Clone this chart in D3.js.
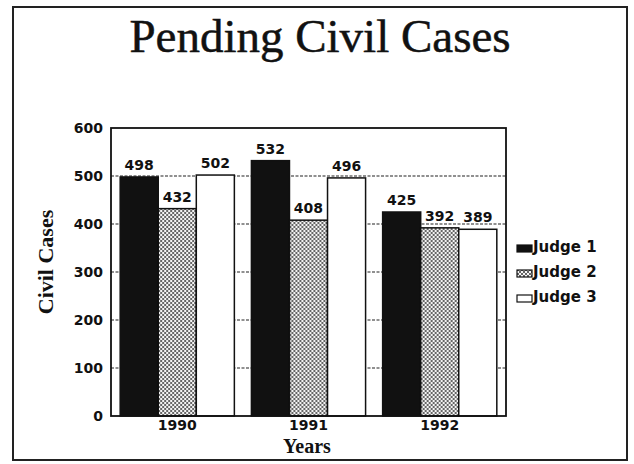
<!DOCTYPE html>
<html>
<head>
<meta charset="utf-8">
<script src="https://cdn.jsdelivr.net/npm/d3@7"></script>
<style>
  html, body { margin: 0; padding: 0; background: #fff; }
  svg { display: block; }
</style>
</head>
<body>
<svg id="chart" width="634" height="464"></svg>
<script>
// ---- data ----
const years = ["1990", "1991", "1992"];
const judges = ["Judge 1", "Judge 2", "Judge 3"];
const judge1 = [498, 532, 425];
const judge2 = [432, 408, 392];
const judge3 = [502, 496, 389];
const yTicks = [0, 100, 200, 300, 400, 500, 600];
const titleText = "Pending Civil Cases";
const yTitle = "Civil Cases";
const xTitle = "Years";

const seriesValues = [judge1, judge2, judge3];

const svg = d3.select("#chart");

// patterns
const defs = svg.append("defs");
const pat = defs.append("pattern")
  .attr("id", "dots").attr("patternUnits", "userSpaceOnUse")
  .attr("width", 4).attr("height", 4);
pat.append("rect").attr("width", 4).attr("height", 4).attr("fill", "#f4f4f4");
pat.append("rect").attr("x", 0).attr("y", 0).attr("width", 2).attr("height", 2).attr("fill", "#666");
pat.append("rect").attr("x", 2).attr("y", 2).attr("width", 2).attr("height", 2).attr("fill", "#666");

const fills = ["#111", "url(#dots)", "#fff"];

// outer frame
svg.append("rect")
  .attr("x", 13).attr("y", 7).attr("width", 614).attr("height", 453)
  .attr("fill", "none").attr("stroke", "#222").attr("stroke-width", 2);

// title
svg.append("text")
  .attr("x", 320).attr("y", 52)
  .attr("text-anchor", "middle")
  .attr("font-family", "Liberation Serif, Times New Roman, serif")
  .attr("font-size", 47)
  .attr("fill", "#111").attr("stroke", "#111").attr("stroke-width", 0.5)
  .text(titleText);

// plot geometry
const plot = { left: 111, right: 506, top: 128, bottom: 416 };

const y = d3.scaleLinear().domain([0, 600]).range([plot.bottom, plot.top]);
const x0 = d3.scaleBand().domain(years).range([plot.left, plot.right])
  .paddingInner(0.13).paddingOuter(0.07);
const x1 = d3.scaleBand().domain(judges).range([0, x0.bandwidth()]).padding(0);

// gridlines (dashed)
svg.append("g")
  .selectAll("line")
  .data(yTicks.filter(d => d > 0 && d < 600))
  .join("line")
  .attr("x1", plot.left).attr("x2", plot.right)
  .attr("y1", d => y(d)).attr("y2", d => y(d))
  .attr("stroke", "#222").attr("stroke-width", 1.2)
  .attr("stroke-dasharray", "3,1.5");

// y axis labels (using d3 axis)
const yAxis = d3.axisLeft(y).tickValues(yTicks).tickSize(0).tickPadding(8);
const yg = svg.append("g").attr("transform", `translate(${plot.left},0)`).call(yAxis);
yg.select(".domain").remove();
yg.selectAll("text")
  .attr("font-family", "DejaVu Sans, sans-serif")
  .attr("font-weight", "bold").attr("font-size", 14).attr("fill", "#111");

// x axis labels
const xAxis = d3.axisBottom(x0).tickSize(0).tickPadding(4);
const xg = svg.append("g").attr("transform", `translate(0,${plot.bottom})`).call(xAxis);
xg.select(".domain").remove();
xg.selectAll("text")
  .attr("font-family", "DejaVu Sans, sans-serif")
  .attr("font-weight", "bold").attr("font-size", 14).attr("fill", "#111");

// bars
const rows = years.map((yr, i) => ({ year: yr, vals: judges.map((j, k) => ({ judge: j, k, v: seriesValues[k][i] })) }));
const groups = svg.append("g").selectAll("g")
  .data(rows).join("g")
  .attr("transform", d => `translate(${x0(d.year)},0)`);

groups.selectAll("rect")
  .data(d => d.vals).join("rect")
  .attr("x", d => x1(d.judge))
  .attr("y", d => y(d.v))
  .attr("width", x1.bandwidth())
  .attr("height", d => y(0) - y(d.v))
  .attr("fill", d => fills[d.k])
  .attr("stroke", "#111").attr("stroke-width", 1.5);

groups.selectAll("text")
  .data(d => d.vals).join("text")
  .attr("x", d => x1(d.judge) + x1.bandwidth() / 2)
  .attr("y", d => y(d.v) - 7)
  .attr("text-anchor", "middle")
  .attr("font-family", "DejaVu Sans, sans-serif")
  .attr("font-weight", "bold").attr("font-size", 14).attr("fill", "#111")
  .text(d => d.v);

// plot frame
svg.append("rect")
  .attr("x", plot.left).attr("y", plot.top)
  .attr("width", plot.right - plot.left).attr("height", plot.bottom - plot.top)
  .attr("fill", "none").attr("stroke", "#111").attr("stroke-width", 1.8);

// axis titles
svg.append("text")
  .attr("transform", "translate(53,262) rotate(-90)")
  .attr("text-anchor", "middle")
  .attr("font-family", "Liberation Serif, Times New Roman, serif")
  .attr("font-weight", "bold").attr("font-size", 22).attr("fill", "#111")
  .text(yTitle);

svg.append("text")
  .attr("x", 307).attr("y", 453)
  .attr("text-anchor", "middle")
  .attr("font-family", "Liberation Serif, Times New Roman, serif")
  .attr("font-weight", "bold").attr("font-size", 20).attr("fill", "#111")
  .text(xTitle);

// legend
const legend = svg.append("g").attr("transform", "translate(517,252)");
const li = legend.selectAll("g").data(judges).join("g")
  .attr("transform", (d, i) => `translate(0,${i * 25})`);
li.append("rect")
  .attr("x", 0).attr("y", -7).attr("width", 15).attr("height", 7)
  .attr("fill", (d, i) => fills[i]).attr("stroke", "#111").attr("stroke-width", 1.2);
li.append("text")
  .attr("x", 16).attr("y", 0)
  .attr("font-family", "DejaVu Sans, sans-serif")
  .attr("font-weight", "bold").attr("font-size", 15).attr("fill", "#111")
  .text(d => d);
</script>
</body>
</html>
